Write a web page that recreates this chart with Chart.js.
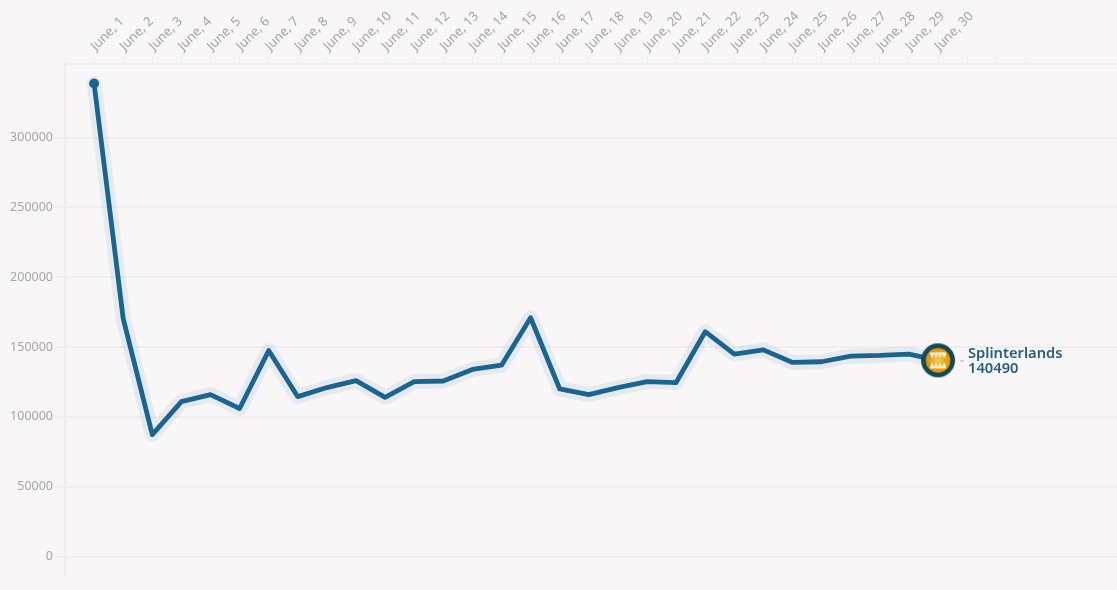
<!DOCTYPE html>
<html>
<head>
<meta charset="utf-8">
<style>
  html, body { margin: 0; padding: 0; background: #f8f6f7; }
  #wrap { width: 1117px; height: 590px; position: relative; }
</style>
<script src="https://cdn.jsdelivr.net/npm/chart.js@4"></script>
</head>
<body>
<div id="wrap"><canvas id="chart"></canvas></div>
<script>
const days = ['June, 1','June, 2','June, 3','June, 4','June, 5','June, 6','June, 7','June, 8','June, 9','June, 10',
  'June, 11','June, 12','June, 13','June, 14','June, 15','June, 16','June, 17','June, 18','June, 19','June, 20',
  'June, 21','June, 22','June, 23','June, 24','June, 25','June, 26','June, 27','June, 28','June, 29','June, 30'];
const players = [338700,170400,87350,111000,116000,106000,147500,114500,121000,126000,
  114000,125300,125700,134000,137000,171000,120000,116000,121000,125300,
  124600,161000,145000,148000,139000,139500,143500,144000,145000,140490];
const yTicks = [0,50000,100000,150000,200000,250000,300000];
const seriesName = 'Splinterlands';

const lineColor = '#1a6491';
const gridColor = '#efedee';
const tickColor = '#a6a4a5';
const fontName = '"Noto Sans", sans-serif';

// small round game badge for the end of the line
const makeBadge = () => {
  const size = 36, c = document.createElement('canvas');
  c.width = c.height = size;
  const g = c.getContext('2d'), m = size / 2;
  g.fillStyle = '#0c4f5c';
  g.beginPath(); g.arc(m, m, 17, 0, Math.PI * 2); g.fill();
  g.fillStyle = '#0d3a40';
  g.beginPath(); g.arc(m, m, 13.5, 0, Math.PI * 2); g.fill();
  const grad = g.createRadialGradient(m, m, 2, m, m, 12.5);
  grad.addColorStop(0, '#ffd23a');
  grad.addColorStop(1, '#e08a06');
  g.fillStyle = grad;
  g.beginPath(); g.arc(m, m, 12.5, 0, Math.PI * 2); g.fill();
  g.fillStyle = '#fff3d0';
  g.fillRect(m - 8, m - 8, 16, 2);
  g.fillRect(m - 8, m + 6, 16, 2);
  for (let i = 0; i < 4; i++) {
    const x = m - 8 + i * 4;
    g.beginPath(); g.moveTo(x, m - 6); g.lineTo(x + 4, m - 6); g.lineTo(x + 2, m - 2); g.fill();
    g.beginPath(); g.moveTo(x, m + 6); g.lineTo(x + 4, m + 6); g.lineTo(x + 2, m + 2); g.fill();
  }
  return c;
};
const badge = makeBadge();

// name and last value next to the badge
const endLabel = {
  id: 'endLabel',
  afterDatasetsDraw(chart) {
    const meta = chart.getDatasetMeta(1);
    const pt = meta.data[meta.data.length - 1];
    const ctx = chart.ctx;
    ctx.save();
    ctx.strokeStyle = '#b5b3b4';
    ctx.lineWidth = 1;
    ctx.beginPath(); ctx.moveTo(pt.x + 22, pt.y + 0.5); ctx.lineTo(pt.x + 26, pt.y + 0.5); ctx.stroke();
    ctx.fillStyle = '#235f8a';
    ctx.font = '600 14.7px ' + fontName;
    ctx.textBaseline = 'middle';
    ctx.fillText(seriesName, pt.x + 30, pt.y - 7);
    ctx.fillText(String(players[players.length - 1]), pt.x + 30, pt.y + 8);
    ctx.restore();
  }
};

const lastIdx = players.length - 1;
const points = players.map((v, i) => ({ x: i + 1, y: v }));

new Chart(document.getElementById('chart'), {
  type: 'line',
  data: {
    datasets: [
      {
        label: 'halo',
        data: points,
        borderColor: 'rgba(26,100,145,0.08)',
        borderWidth: 15,
        borderCapStyle: 'round',
        borderJoinStyle: 'round',
        pointRadius: 0,
        tension: 0
      },
      {
        label: seriesName,
        data: points,
        borderColor: lineColor,
        borderWidth: 4.8,
        borderJoinStyle: 'round',
        backgroundColor: lineColor,
        pointRadius: ctx => ctx.dataIndex === 0 ? 5 : (ctx.dataIndex === lastIdx ? 17 : 0),
        pointStyle: ctx => ctx.dataIndex === lastIdx ? badge : 'circle',
        pointBorderWidth: 0,
        tension: 0
      }
    ]
  },
  plugins: [endLabel],
  options: {
    responsive: true,
    maintainAspectRatio: false,
    animation: false,
    layout: { autoPadding: false, padding: { left: 0, right: 0, top: 0, bottom: 15 } },
    plugins: { legend: { display: false }, tooltip: { enabled: false } },
    scales: {
      x: {
        type: 'linear',
        position: 'top',
        min: 0,
        max: 36.15,
        afterBuildTicks: axis => {
          axis.ticks = [];
          for (let i = 0; i <= days.length + 3; i++) axis.ticks.push({ value: i });
        },
        afterFit: axis => { axis.height = 64; axis.paddingLeft = 0; axis.paddingRight = 0; },
        border: { display: true, color: gridColor, width: 2 },
        grid: { color: gridColor, drawOnChartArea: false, drawTicks: true, tickLength: 8, lineWidth: 1 },
        ticks: {
          autoSkip: false,
          minRotation: 45,
          maxRotation: 45,
          padding: 2,
          labelOffset: 10,
          color: tickColor,
          font: { family: fontName, size: 13 },
          callback: v => days[v - 1] || ''
        }
      },
      y: {
        min: -13200,
        max: 352700,
        afterBuildTicks: axis => { axis.ticks = yTicks.map(v => ({ value: v })); },
        afterFit: axis => { axis.width = 65; axis.paddingTop = 0; axis.paddingBottom = 0; },
        border: { display: true, color: gridColor, width: 2 },
        grid: { color: gridColor, lineWidth: 2, drawTicks: true, tickLength: 10 },
        ticks: {
          padding: 2,
          color: tickColor,
          font: { family: fontName, size: 12.5 },
          callback: v => String(v)
        }
      }
    }
  }
});
</script>
</body>
</html>
